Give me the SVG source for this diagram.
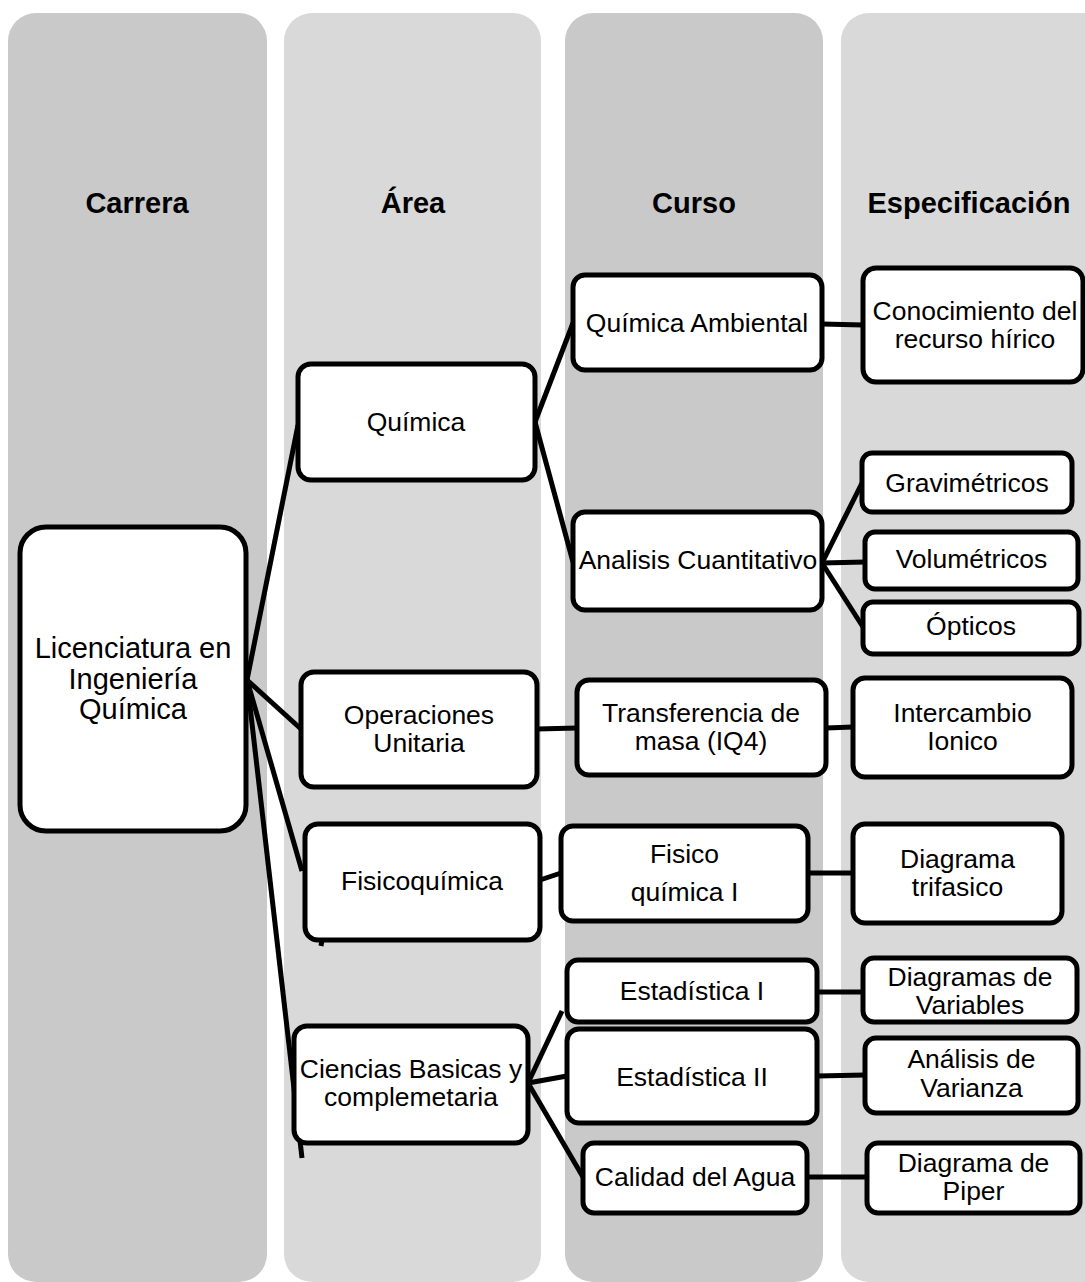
<svg xmlns="http://www.w3.org/2000/svg" width="1085" height="1282" viewBox="0 0 1085 1282">
<style>
.colA{fill:#c9c9c9}
.colB{fill:#d9d9d9}
.hdr{font-family:"Liberation Sans",Arial,sans-serif;font-size:29px;font-weight:bold;fill:#000;text-anchor:middle}
.box{fill:#fff;stroke:#000;stroke-width:5}
.t{font-family:"Liberation Sans",Arial,sans-serif;font-size:26.5px;fill:#000;text-anchor:middle}
.tl{font-family:"Liberation Sans",Arial,sans-serif;font-size:29px;fill:#000;text-anchor:middle}
.conn line{stroke:#000;stroke-width:5;stroke-linecap:butt}
</style>
<g id="columns">
<rect class="colA" x="8" y="13" width="259" height="1269" rx="28"/>
<rect class="colB" x="284" y="13" width="257" height="1269" rx="28"/>
<rect class="colA" x="565" y="13" width="258" height="1269" rx="28"/>
<rect class="colB" x="841" y="13" width="274" height="1269" rx="28"/>
<text class="hdr" x="137" y="213">Carrera</text>
<text class="hdr" x="413" y="213">Área</text>
<text class="hdr" x="694" y="213">Curso</text>
<text class="hdr" x="969" y="213">Especificación</text>
</g>
<g id="connectors" class="conn">
<line x1="247" y1="680" x2="298" y2="425"/>
<line x1="247" y1="680" x2="301" y2="729"/>
<line x1="247" y1="680" x2="302" y2="871"/>
<line x1="247" y1="680" x2="302" y2="1158"/>
<line x1="535" y1="422" x2="573" y2="323"/>
<line x1="535" y1="422" x2="573" y2="562"/>
<line x1="822" y1="324" x2="863" y2="325"/>
<line x1="822" y1="563" x2="862" y2="483"/>
<line x1="822" y1="563" x2="865" y2="562"/>
<line x1="822" y1="563" x2="863" y2="627"/>
<line x1="537" y1="729" x2="577" y2="728"/>
<line x1="826" y1="728" x2="853" y2="727"/>
<line x1="540" y1="880" x2="561" y2="873"/>
<line x1="808" y1="873" x2="853" y2="873"/>
<line x1="528" y1="1083" x2="562" y2="1011"/>
<line x1="528" y1="1083" x2="567" y2="1076"/>
<line x1="528" y1="1083" x2="583" y2="1177"/>
<line x1="817" y1="992" x2="863" y2="992"/>
<line x1="817" y1="1076" x2="865" y2="1075"/>
<line x1="807" y1="1177" x2="867" y2="1177"/>
<line x1="322" y1="940" x2="321" y2="946"/>
</g>
<g id="n-licenciatura">
<rect class="box" x="20" y="527" width="226" height="304" rx="26"/>
<text class="tl" x="133" y="658">Licenciatura en</text>
<text class="tl" x="133" y="689">Ingeniería</text>
<text class="tl" x="133" y="719">Química</text>
</g>
<g id="n-quimica">
<rect class="box" x="298" y="364" width="237" height="116" rx="13"/>
<text class="t" x="416" y="431">Química</text>
</g>
<g id="n-operaciones">
<rect class="box" x="301" y="672" width="236" height="115" rx="13"/>
<text class="t" x="419" y="723.5">Operaciones</text>
<text class="t" x="419" y="752">Unitaria</text>
</g>
<g id="n-fisicoquimica">
<rect class="box" x="305" y="824" width="235" height="116" rx="13"/>
<text class="t" x="422" y="890">Fisicoquímica</text>
</g>
<g id="n-ciencias">
<rect class="box" x="294" y="1026" width="234" height="117" rx="13"/>
<text class="t" x="411" y="1077.5">Ciencias Basicas y</text>
<text class="t" x="411" y="1106">complemetaria</text>
</g>
<g id="n-quimica-ambiental">
<rect class="box" x="573" y="275" width="249" height="95" rx="12"/>
<text class="t" x="697" y="332">Química Ambiental</text>
</g>
<g id="n-analisis">
<rect class="box" x="573" y="512" width="249" height="98" rx="12"/>
<text class="t" x="698" y="569">Analisis Cuantitativo</text>
</g>
<g id="n-transferencia">
<rect class="box" x="577" y="680" width="249" height="95" rx="12"/>
<text class="t" x="701" y="721.5">Transferencia de</text>
<text class="t" x="701" y="750">masa (IQ4)</text>
</g>
<g id="n-fisico">
<rect class="box" x="561" y="826" width="247" height="95" rx="12"/>
<text class="t" x="684.5" y="863">Fisico</text>
<text class="t" x="684.5" y="901">química I</text>
</g>
<g id="n-estadistica1">
<rect class="box" x="567" y="960" width="250" height="62" rx="11"/>
<text class="t" x="692" y="1000">Estadística I</text>
</g>
<g id="n-estadistica2">
<rect class="box" x="567" y="1029" width="250" height="94" rx="12"/>
<text class="t" x="692" y="1086">Estadística II</text>
</g>
<g id="n-calidad">
<rect class="box" x="583" y="1143" width="224" height="70" rx="11"/>
<text class="t" x="695" y="1186">Calidad del Agua</text>
</g>
<g id="n-conocimiento">
<rect class="box" x="863" y="268" width="220" height="114" rx="13"/>
<text class="t" x="975" y="319.5">Conocimiento del</text>
<text class="t" x="975" y="348">recurso hírico</text>
</g>
<g id="n-gravimetricos">
<rect class="box" x="862" y="453" width="210" height="59" rx="10"/>
<text class="t" x="967" y="491.5">Gravimétricos</text>
</g>
<g id="n-volumetricos">
<rect class="box" x="865" y="532" width="213" height="57" rx="10"/>
<text class="t" x="971.5" y="568">Volumétricos</text>
</g>
<g id="n-opticos">
<rect class="box" x="863" y="602" width="216" height="52" rx="10"/>
<text class="t" x="971" y="635">Ópticos</text>
</g>
<g id="n-intercambio">
<rect class="box" x="853" y="678" width="219" height="99" rx="12"/>
<text class="t" x="962.5" y="721.5">Intercambio</text>
<text class="t" x="962.5" y="750">Ionico</text>
</g>
<g id="n-trifasico">
<rect class="box" x="853" y="824" width="209" height="99" rx="12"/>
<text class="t" x="957.5" y="867.5">Diagrama</text>
<text class="t" x="957.5" y="896">trifasico</text>
</g>
<g id="n-variables">
<rect class="box" x="863" y="958" width="214" height="64" rx="11"/>
<text class="t" x="970" y="985.5">Diagramas de</text>
<text class="t" x="970" y="1014">Variables</text>
</g>
<g id="n-varianza">
<rect class="box" x="865" y="1038" width="213" height="75" rx="11"/>
<text class="t" x="971.5" y="1068">Análisis de</text>
<text class="t" x="971.5" y="1097">Varianza</text>
</g>
<g id="n-piper">
<rect class="box" x="867" y="1143" width="213" height="70" rx="11"/>
<text class="t" x="973.5" y="1171.5">Diagrama de</text>
<text class="t" x="973.5" y="1200">Piper</text>
</g>
</svg>
